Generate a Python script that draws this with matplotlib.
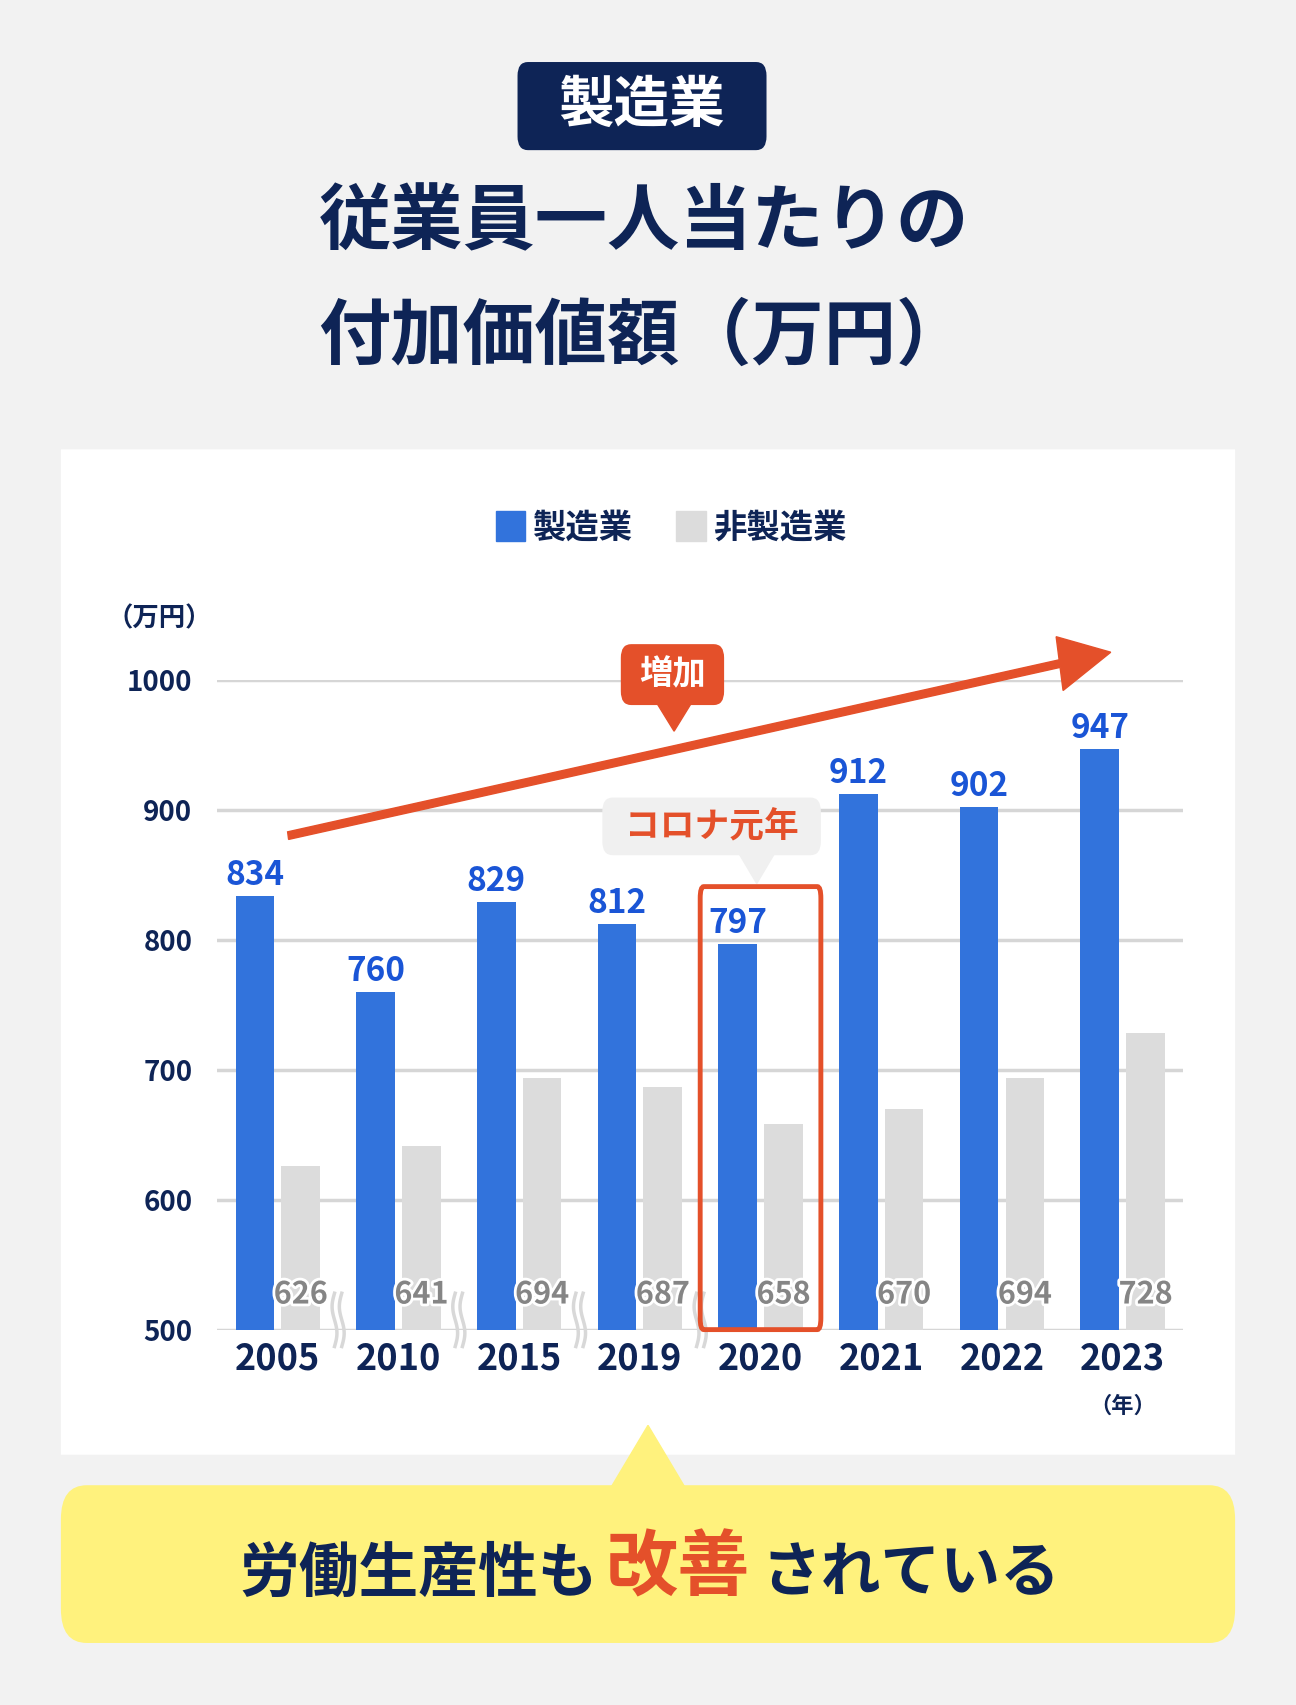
import numpy as np
import matplotlib.pyplot as plt
from matplotlib.patches import FancyBboxPatch, Rectangle, Polygon, FancyArrow
import matplotlib.patheffects as pe

plt.rcParams["font.family"] = "Noto Sans CJK JP"

years = ["2005", "2010", "2015", "2019", "2020", "2021", "2022", "2023"]
manufacturing = [834, 760, 829, 812, 797, 912, 902, 947]
non_manufacturing = [626, 641, 694, 687, 658, 670, 694, 728]
yticks = [500, 600, 700, 800, 900, 1000]

NAVY = "#0e2456"
BLUE = "#3273dc"
BLUE_TXT = "#1a55d6"
GRAY = "#dcdcdc"
RED = "#e4502a"

W, H = 1192, 1567
fx = lambda x: x / W
fy = lambda y: 1 - y / H

fig = plt.figure(figsize=(12.96, 17.05), dpi=100)
fig.patch.set_facecolor("#f2f2f2")

def frect(x0, y0, x1, y1, color, rad=0.0, z=0):
    p = FancyBboxPatch((fx(x0), fy(y1)), fx(x1 - x0), (y1 - y0) / H,
                       boxstyle=f"round,pad=0,rounding_size={rad}",
                       transform=fig.transFigure, facecolor=color,
                       edgecolor="none", zorder=z)
    fig.add_artist(p)

# white panel
frect(56, 413, 1136, 1337, "white")
# title badge
frect(476, 57, 705, 138, NAVY, rad=0.008)
fig.text(fx(590), fy(97), "製造業", color="white", fontsize=40, fontweight="bold",
         ha="center", va="center")
fig.text(fx(592), fy(205), "従業員一人当たりの", color=NAVY, fontsize=52,
         fontweight="bold", ha="center", va="center")
fig.text(fx(592), fy(310), "付加価値額（万円）", color=NAVY, fontsize=52,
         fontweight="bold", ha="center", va="center")

# legend
fig.add_artist(Rectangle((fx(456), fy(497)), fx(27), 27 / H, color=BLUE,
                         transform=fig.transFigure))
fig.text(fx(490), fy(485), "製造業", color=NAVY, fontsize=24, fontweight="bold",
         va="center")
fig.add_artist(Rectangle((fx(622), fy(497)), fx(27), 27 / H, color=GRAY,
                         transform=fig.transFigure))
fig.text(fx(656), fy(485), "非製造業", color=NAVY, fontsize=24, fontweight="bold",
         va="center")

# axes
ax = fig.add_axes([fx(200), fy(1222), fx(888), (1222 - 625) / H])
ax.set_facecolor("none")
x = np.arange(len(years))
w = 0.32
ax.bar(x - 0.19, manufacturing, w, color=BLUE, zorder=3)
ax.bar(x + 0.19, non_manufacturing, w, color=GRAY, zorder=3)
ax.set_xlim(-0.5, 7.5)
ax.set_ylim(500, 1000)
ax.set_yticks(yticks)
ax.yaxis.grid(True, color="#d6d6d6", lw=2.5, zorder=0)
ax.tick_params(length=0)
ax.set_yticklabels([str(v) for v in yticks], fontsize=20, fontweight="bold",
                   color=NAVY)
ax.tick_params(axis="y", pad=18)
ax.set_xticks(x)
ax.set_xticklabels(years, fontsize=26, fontweight="bold", color=NAVY)
ax.tick_params(axis="x", pad=8)
for s in ax.spines.values():
    s.set_visible(False)

for i in range(len(years)):
    ax.text(x[i] - 0.19, manufacturing[i] + 3, str(manufacturing[i]), ha="center",
            va="bottom", fontsize=24, fontweight="bold", color=BLUE_TXT,
            zorder=5, clip_on=False)
    ax.text(x[i] + 0.19, 527, str(non_manufacturing[i]), ha="center",
            va="center", fontsize=22, fontweight="bold", color="#858585", zorder=5,
            path_effects=[pe.withStroke(linewidth=4, foreground="white")])

# break marks between first groups
t = np.linspace(487, 528, 60)
for k in range(4):
    xc = k + 0.5
    for dx in (-0.03, 0.03):
        ax.plot(xc + dx + 0.02 * np.sin((t - 487) / 41 * 2 * np.pi), t,
                color="#d8d8d8", lw=2.5, clip_on=False, zorder=4)

ax.text(-0.98, 1047, "（万円）", fontsize=19, fontweight="bold", color=NAVY,
        ha="center", va="center", clip_on=False)
ax.text(7.0, 441, "（年）", fontsize=16, fontweight="bold", color=NAVY,
        ha="center", va="center", clip_on=False)

# 2020 highlight box
ax.add_patch(FancyBboxPatch((3.5, 500), 1.0, 341,
                            boxstyle="round,pad=0,rounding_size=0.03",
                            fill=False, edgecolor=RED, lw=3.5, zorder=6,
                            clip_on=False, mutation_aspect=300))

# increase arrow
fig.add_artist(FancyArrow(fx(265), fy(768), fx(1028 - 265) * 0.93,
                          (768 - 598) / H * 0.93, width=0.0045,
                          head_width=0.032, head_length=0.04,
                          length_includes_head=False, color=RED,
                          transform=fig.transFigure, zorder=7))
frect(571, 592, 666, 648, RED, rad=0.008, z=8)
fig.add_artist(Polygon([(fx(604), fy(646)), (fx(636), fy(646)), (fx(620), fy(672))],
                       closed=True, color=RED, transform=fig.transFigure, zorder=8))
fig.text(fx(619), fy(620), "増加", color="white", fontsize=24, fontweight="bold",
         ha="center", va="center", zorder=9)

frect(554, 733, 755, 786, "#f0f0f0", rad=0.008, z=8)
fig.add_artist(Polygon([(fx(680), fy(785)), (fx(712), fy(785)), (fx(696), fy(812))],
                       closed=True, color="#f0f0f0", transform=fig.transFigure,
                       zorder=8))
fig.text(fx(655), fy(760), "コロナ元年", color=RED, fontsize=25,
         fontweight="bold", ha="center", va="center", zorder=9)

# bottom callout
YEL = "#fff27d"
frect(56, 1365, 1136, 1510, YEL, rad=0.02)
fig.add_artist(Polygon([(fx(562), fy(1367)), (fx(630), fy(1367)), (fx(596), fy(1310))],
                       closed=True, color=YEL, transform=fig.transFigure))
fig.text(fx(550), fy(1447), "労働生産性も", color=NAVY, fontsize=43,
         fontweight="bold", ha="right", va="center")
fig.text(fx(624), fy(1442), "改善", color=RED, fontsize=52,
         fontweight="bold", ha="center", va="center")
fig.text(fx(700), fy(1447), "されている", color=NAVY, fontsize=43,
         fontweight="bold", ha="left", va="center")

fig.savefig("out.png", dpi=100, facecolor=fig.get_facecolor())
